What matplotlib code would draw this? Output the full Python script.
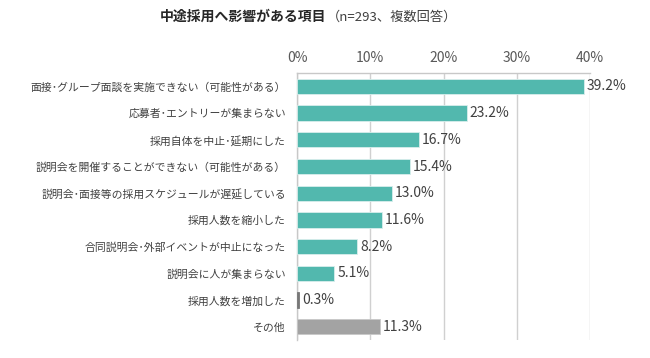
import matplotlib
matplotlib.use("Agg")
import matplotlib.pyplot as plt

plt.rcParams['font.family'] = ['Noto Sans CJK JP', 'DejaVu Sans']

categories = [
    "面接･グループ面談を実施できない（可能性がある）",
    "応募者･エントリーが集まらない",
    "採用自体を中止･延期にした",
    "説明会を開催することができない（可能性がある）",
    "説明会･面接等の採用スケジュールが遅延している",
    "採用人数を縮小した",
    "合同説明会･外部イベントが中止になった",
    "説明会に人が集まらない",
    "採用人数を増加した",
    "その他",
]
values = [39.2, 23.2, 16.7, 15.4, 13.0, 11.6, 8.2, 5.1, 0.3, 11.3]
value_labels = ["39.2%", "23.2%", "16.7%", "15.4%", "13.0%", "11.6%", "8.2%", "5.1%", "0.3%", "11.3%"]
xticks = [0, 10, 20, 30, 40]
xtick_labels = ["0%", "10%", "20%", "30%", "40%"]
colors = ["#52B8AE"] * 8 + ["#777777", "#A3A3A3"]
edges = ["#D8EEEC"] * 8 + ["#777777", "#C8C8C8"]

fig = plt.figure(figsize=(6.5, 3.58), dpi=100)
ax = fig.add_axes([0.457, 0.050, 0.451, 0.746])

ypos = list(range(len(categories)))
ax.barh(ypos, values, height=0.57, color=colors, edgecolor=edges, linewidth=0.6, zorder=3)
ax.set_ylim(len(categories) - 0.5, -0.5)
ax.set_xlim(0, 40)

for y, v, lab in zip(ypos, values, value_labels):
    ax.annotate(lab, (v, y), xytext=(2, 0), textcoords="offset points",
                va="center", ha="left", fontsize=10, color="#404040")

ax.set_yticks(ypos)
ax.set_yticklabels(categories, fontsize=7.8, color="#404040")
ax.set_xticks(xticks)
ax.set_xticklabels(xtick_labels, fontsize=10, color="#595959")
ax.xaxis.tick_top()
ax.tick_params(axis="both", length=0)
ax.tick_params(axis="x", pad=6)
ax.tick_params(axis="y", pad=8)
ax.grid(axis="x", color="#D0D0D0", linewidth=1, zorder=0)
for s in ["right", "bottom"]:
    ax.spines[s].set_visible(False)
for s in ["top", "left"]:
    ax.spines[s].set_color("#C8C8C8")
    ax.spines[s].set_linewidth(1)

fig.text(0.246, 0.953, "中途採用へ影響がある項目", fontsize=10, fontweight="bold",
         color="#262626", ha="left", va="center")
fig.text(0.503, 0.953, "（n=293、複数回答）", fontsize=9.5, color="#404040",
         ha="left", va="center")

fig.savefig("out.png", dpi=100)
